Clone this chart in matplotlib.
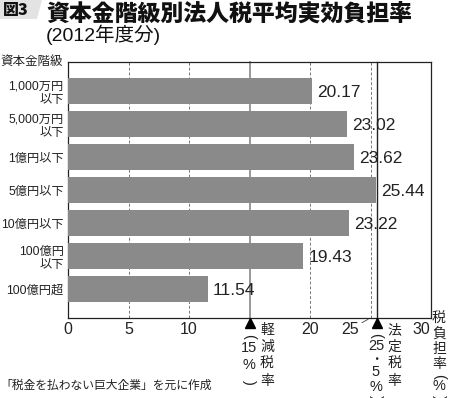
import matplotlib
matplotlib.use("Agg")
import matplotlib.pyplot as plt
from matplotlib.patches import Polygon
from matplotlib.transforms import offset_copy

plt.rcParams['font.family'] = ['Liberation Sans', 'Noto Sans CJK JP', 'DejaVu Sans']

# ---- data ----
categories = ["1,000万円\n以下", "5,000万円\n以下", "1億円以下", "5億円以下",
              "10億円以下", "100億円\n以下", "100億円超"]
values = [20.17, 23.02, 23.62, 25.44, 23.22, 19.43, 11.54]
xticks = [0, 5, 10, 20, 25, 30]
grid_dashed = [5, 10, 20, 25]
reduced_rate = 15
statutory_rate = 25.5

title = "資本金階級別法人税平均実効負担率"
subtitle = "(2012年度分)"
fig_label = "図3"
ylabel_top = "資本金階級"
xlabel_chars = ["税", "負", "担", "率"]
reduced_name = ["軽", "減", "税", "率"]
statutory_name = ["法", "定", "税", "率"]
reduced_value = ["15", "%"]
statutory_value = ["25", "・", "5", "%"]
source = "「税金を払わない巨大企業」を元に作成"

CJK = ['Noto Sans CJK JP', 'DejaVu Sans']
LAT = ['Liberation Sans', 'Noto Sans CJK JP']
INK = '#222222'

W, H = 450, 398
fig = plt.figure(figsize=(W / 100, H / 100), dpi=100)
ax = fig.add_axes([68 / W, 1 - 318 / H, 363 / W, 256 / H])

ypos = list(range(len(categories)))
ax.barh(ypos, values, height=0.79, color='#8a8a8a', zorder=3)
ax.set_xlim(0, 30)
ax.set_ylim(len(categories) - 1 + 0.88, -0.88)

for x in grid_dashed:
    ax.axvline(x, color='#777777', lw=0.7, ls=(0, (3, 2)), zorder=1)

xt = ax.get_xaxis_transform()
ax.plot([reduced_rate, reduced_rate], [1, -0.008], transform=xt, color='#888888',
        lw=1.2, clip_on=False, zorder=2)
ax.plot([statutory_rate, statutory_rate], [1, -0.008], transform=xt, color='#222222',
        lw=1.0, clip_on=False, zorder=4)
for xr in (reduced_rate, statutory_rate):
    ax.plot([xr], [-0.018], transform=xt, marker='^', ms=6.5, color='black',
            clip_on=False, zorder=5)

for y, v in zip(ypos, values):
    ax.text(v + 0.45, y + 0.05, f"{v:.2f}", va='center', ha='left', fontsize=12.5,
            color=INK, zorder=6)

# y labels
ax.set_yticks(ypos)
ax.set_yticklabels(categories, fontsize=8.8, linespacing=1.15, color=INK)
ax.tick_params(axis='y', length=0, pad=3)

# x tick labels (manual placement for 25 and 30)
ax.set_xticks(xticks)
ax.set_xticklabels([])
ax.tick_params(axis='x', length=0)
for t in xticks:
    dx = 0
    if t == 25:
        dx = -20
    if t == 30:
        dx = -10
    tr = offset_copy(xt, fig=fig, x=dx, y=-12, units='dots')
    ax.text(t, 0, str(t), transform=tr, ha='center', va='center', fontsize=11.5,
            color=INK)
ax.annotate("", xy=(25, 0), xycoords=xt, xytext=(-11, -6), textcoords='offset pixels',
            arrowprops=dict(arrowstyle='-', lw=0.6, color='#444444'))

for sp in ax.spines.values():
    sp.set_linewidth(0.9)
    sp.set_color(INK)


# vertical annotations, one glyph per row
def put(xpix, ypix, s, size=10, rot=0, fam=CJK):
    fig.text(xpix / W, 1 - ypix / H, s, ha='center', va='center', fontsize=size,
             family=fam, rotation=rot, color=INK)


def open_paren(xpix, ypix):
    put(xpix, ypix, "(", size=10.5, rot=-90, fam=LAT)


def close_paren(xpix, ypix):
    put(xpix, ypix, ")", size=10.5, rot=-90, fam=LAT)


# 軽減税率 (15%)
for i, c in enumerate(reduced_name):
    put(267, 330 + i * 17, c)
open_paren(249, 336)
put(249, 348, reduced_value[0], size=10.5, fam=LAT)
put(249, 365, reduced_value[1], size=10.5, fam=LAT)
close_paren(249, 382)

# 法定税率 (25・5%)
for i, c in enumerate(statutory_name):
    put(394, 330 + i * 17, c)
open_paren(376, 335)
put(376, 346, statutory_value[0], size=10.5, fam=LAT)
put(376, 360, statutory_value[1], size=9, fam=CJK)
put(376, 372, statutory_value[2], size=10.5, fam=LAT)
put(376, 387, statutory_value[3], size=10.5, fam=LAT)
close_paren(376, 397)

# 税負担率(%)
for i, c in enumerate(xlabel_chars):
    put(439, 319 + i * 15, c)
open_paren(439, 376)
put(439, 386, "%", size=10.5, fam=LAT)
close_paren(439, 397)

# title block
fig.patches.append(Polygon([[0, 1], [42 / W, 1], [37 / W, 1 - 19 / H], [0, 1 - 19 / H]],
                           closed=True, transform=fig.transFigure, facecolor='#e3e3e3',
                           edgecolor='none'))
fig.text(3 / W, 1 - 11 / H, fig_label, ha='left', va='center', fontsize=11.5,
         fontweight='heavy', family=CJK, color='#111111')
fig.text(46 / W, 1 - 14 / H, title, ha='left', va='center', fontsize=16.5,
         fontweight='heavy', family=CJK, color='#111111')
fig.text(46 / W, 1 - 35 / H, subtitle, ha='left', va='center', fontsize=14,
         family=LAT, color='#111111')
fig.text(0, 1 - 61 / H, ylabel_top, ha='left', va='center', fontsize=9,
         family=CJK, color=INK)
fig.text(0, 1 - 385 / H, source, ha='left', va='center', fontsize=8.5,
         family=CJK, color=INK)

fig.savefig("out.png", dpi=100)
